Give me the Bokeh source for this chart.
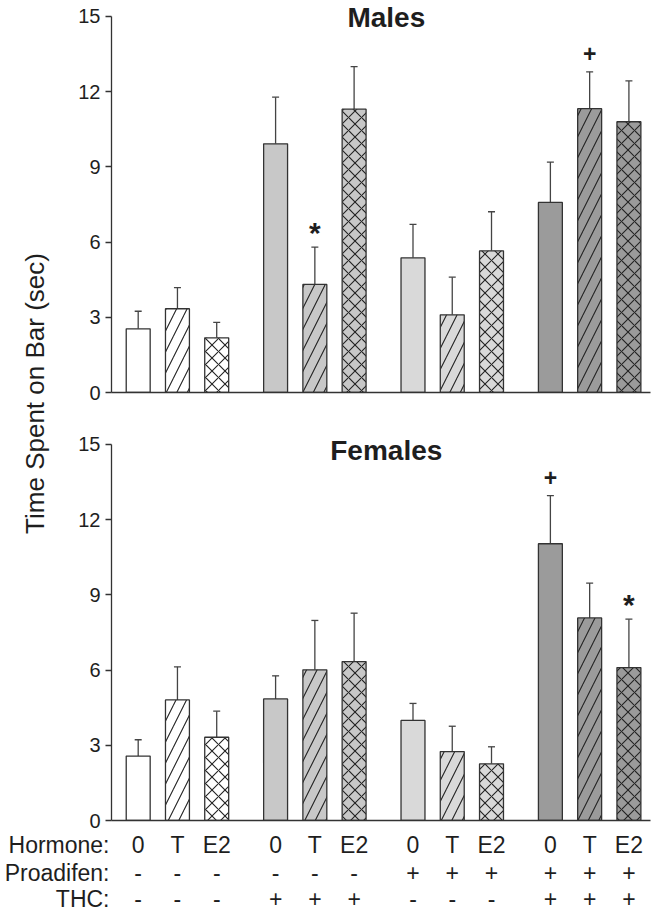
import math
from bokeh.plotting import figure
from bokeh.models import ColumnDataSource, Range1d, Whisker, TeeHead, FixedTicker
from bokeh.layouts import column, row
from bokeh.embed import file_html
from bokeh.resources import INLINE
from bokeh.core.properties import value

# ---------------- data ----------------
hormone = ["0", "T", "E2", "0", "T", "E2", "0", "T", "E2", "0", "T", "E2"]
proadifen = ["-", "-", "-", "-", "-", "-", "+", "+", "+", "+", "+", "+"]
thc = ["-", "-", "-", "+", "+", "+", "-", "-", "-", "+", "+", "+"]
row_names = ["Hormone:", "Proadifen:", "THC:"]

males_mean = [2.54, 3.34, 2.18, 9.92, 4.31, 11.30, 5.37, 3.10, 5.65, 7.58, 11.32, 10.80]
males_sem = [0.70, 0.84, 0.62, 1.86, 1.49, 1.70, 1.34, 1.50, 1.56, 1.61, 1.47, 1.63]
males_sig = ["", "", "", "", "*", "", "", "", "", "", "+", ""]

females_mean = [2.57, 4.81, 3.32, 4.85, 6.01, 6.34, 3.99, 2.75, 2.26, 11.04, 8.08, 6.10]
females_sem = [0.65, 1.32, 1.04, 0.92, 1.97, 1.93, 0.68, 1.01, 0.68, 1.92, 1.39, 1.93]
females_sig = ["", "", "", "", "", "", "", "", "", "+", "", "*"]

y_ticks = [0, 3, 6, 9, 12, 15]

# ---------------- style ----------------
FONT = "Liberation Sans"
TXT = "#1e1e1e"
EDGE = "#333333"
group_colors = ["#ffffff", "#c8c8c8", "#d9d9d9", "#9b9b9b"]
hatches = [" ", "/", "x"]
hatch_scales = [12, 21, 13]

X_LO, X_HI = -0.68, 13.05
FRAME_W = 539
PX = FRAME_W / (X_HI - X_LO)
PX_Y = 25.07
LAB_W = 62
FIG_W = 652 - LAB_W

xs = [(i // 3) * 3.5 + (i % 3) for i in range(12)]


def panel(title, means, sems, sig, height, frame_h, border_bottom, title_px):
    top_end = frame_h / PX_Y
    tops = [m + s for m, s in zip(means, sems)]
    src = ColumnDataSource(dict(
        x=xs, y=means, top=tops,
        fill=[group_colors[i // 3] for i in range(12)],
        hatch=[hatches[i % 3] for i in range(12)],
        hs=[hatch_scales[i % 3] for i in range(12)]))
    p = figure(width=FIG_W, height=height, x_range=Range1d(X_LO, X_HI),
               y_range=Range1d(0, top_end), output_backend="svg",
               toolbar_location=None, min_border_left=111 - LAB_W,
               min_border_right=2, min_border_top=0,
               min_border_bottom=border_bottom)
    p.outline_line_color = None
    p.xgrid.grid_line_color = None
    p.ygrid.grid_line_color = None
    p.vbar(x="x", top="y", width=0.61, source=src, fill_color="fill",
           line_color=EDGE, line_width=1.3, hatch_pattern="hatch",
           hatch_scale="hs", hatch_color="#222222", hatch_weight=1.1)
    w = Whisker(source=src, base="x", upper="top", lower="y", dimension="height",
                line_color="#444444", line_width=1.3,
                upper_head=TeeHead(size=7, line_color="#444444", line_width=1.3),
                lower_head=None)
    p.add_layout(w)
    # significance markers
    for mark, size, off in (("*", "30px", -15), ("+", "23px", -18)):
        idx = [i for i, s in enumerate(sig) if s == mark]
        if idx:
            p.text(x=[xs[i] for i in idx], y=[tops[i] for i in idx],
                   text=[mark] * len(idx), y_offset=off,
                   text_align="center", text_baseline="middle",
                   text_font=value(FONT), text_font_style="bold",
                   text_font_size=size, text_color=TXT)
    p.text(x=[6.32], y=[top_end - title_px / PX_Y], text=[title],
           text_align="center", text_baseline="middle",
           text_font=value(FONT), text_font_style="bold",
           text_font_size="28px", text_color=TXT)
    ya = p.yaxis[0]
    ya.ticker = FixedTicker(ticks=y_ticks)
    ya.bounds = (0, 15)
    ya.major_tick_in = 0
    ya.major_tick_out = 6
    ya.minor_tick_in = 0
    ya.minor_tick_out = 0
    ya.major_label_standoff = 5
    ya.major_label_text_font = FONT
    ya.major_label_text_font_size = "20px"
    ya.major_label_text_color = TXT
    ya.axis_line_color = EDGE
    ya.axis_line_width = 1.3
    ya.major_tick_line_color = EDGE
    ya.major_tick_line_width = 1.3
    xa = p.xaxis[0]
    xa.ticker = FixedTicker(ticks=[])
    xa.major_tick_in = 0
    xa.major_tick_out = 0
    xa.minor_tick_in = 0
    xa.minor_tick_out = 0
    xa.axis_line_color = EDGE
    xa.axis_line_width = 1.3
    return p


TOP_H, BOT_H, TAB_H = 432, 398, 81
top = panel("Males", males_mean, males_sem, males_sig, TOP_H, 392, 40, 17)
bot = panel("Females", females_mean, females_sem, females_sig, BOT_H, 388, 10, 18)

# y-axis title spanning both panels
LAB_H = TOP_H + BOT_H
lab = figure(width=LAB_W, height=LAB_H, x_range=Range1d(0, LAB_W),
             y_range=Range1d(0, LAB_H), output_backend="svg",
             toolbar_location=None, x_axis_type=None, y_axis_type=None,
             min_border=0)
lab.outline_line_color = None
lab.grid.grid_line_color = None
lab.text(x=[34], y=[LAB_H - 393], text=["Time Spent on Bar (sec)"],
         angle=math.pi / 2, text_align="center", text_baseline="middle",
         text_font=value(FONT), text_font_size="26px", text_color=TXT)

# condition table below the plots
tab = figure(width=652, height=TAB_H,
             x_range=Range1d(X_LO - 111 / PX, X_HI + 2 / PX),
             y_range=Range1d(TAB_H, 0), output_backend="svg",
             toolbar_location=None, x_axis_type=None, y_axis_type=None,
             min_border=0)
tab.outline_line_color = None
tab.grid.grid_line_color = None
row_y = [14, 42, 68]
name_x = X_LO - 2 / PX
tab.text(x=[name_x] * 3, y=row_y, text=row_names, text_align="right",
         text_baseline="middle", text_font=value(FONT), text_font_size="23px",
         text_color=TXT)
for vals, yy in zip([hormone, proadifen, thc], row_y):
    tab.text(x=xs, y=[yy] * len(xs), text=vals, text_align="center",
             text_baseline="middle", text_font=value(FONT),
             text_font_size="23px", text_color=TXT)

layout = column(row(lab, column(top, bot)), tab)
open("out.html", "w").write(file_html(layout, INLINE))
